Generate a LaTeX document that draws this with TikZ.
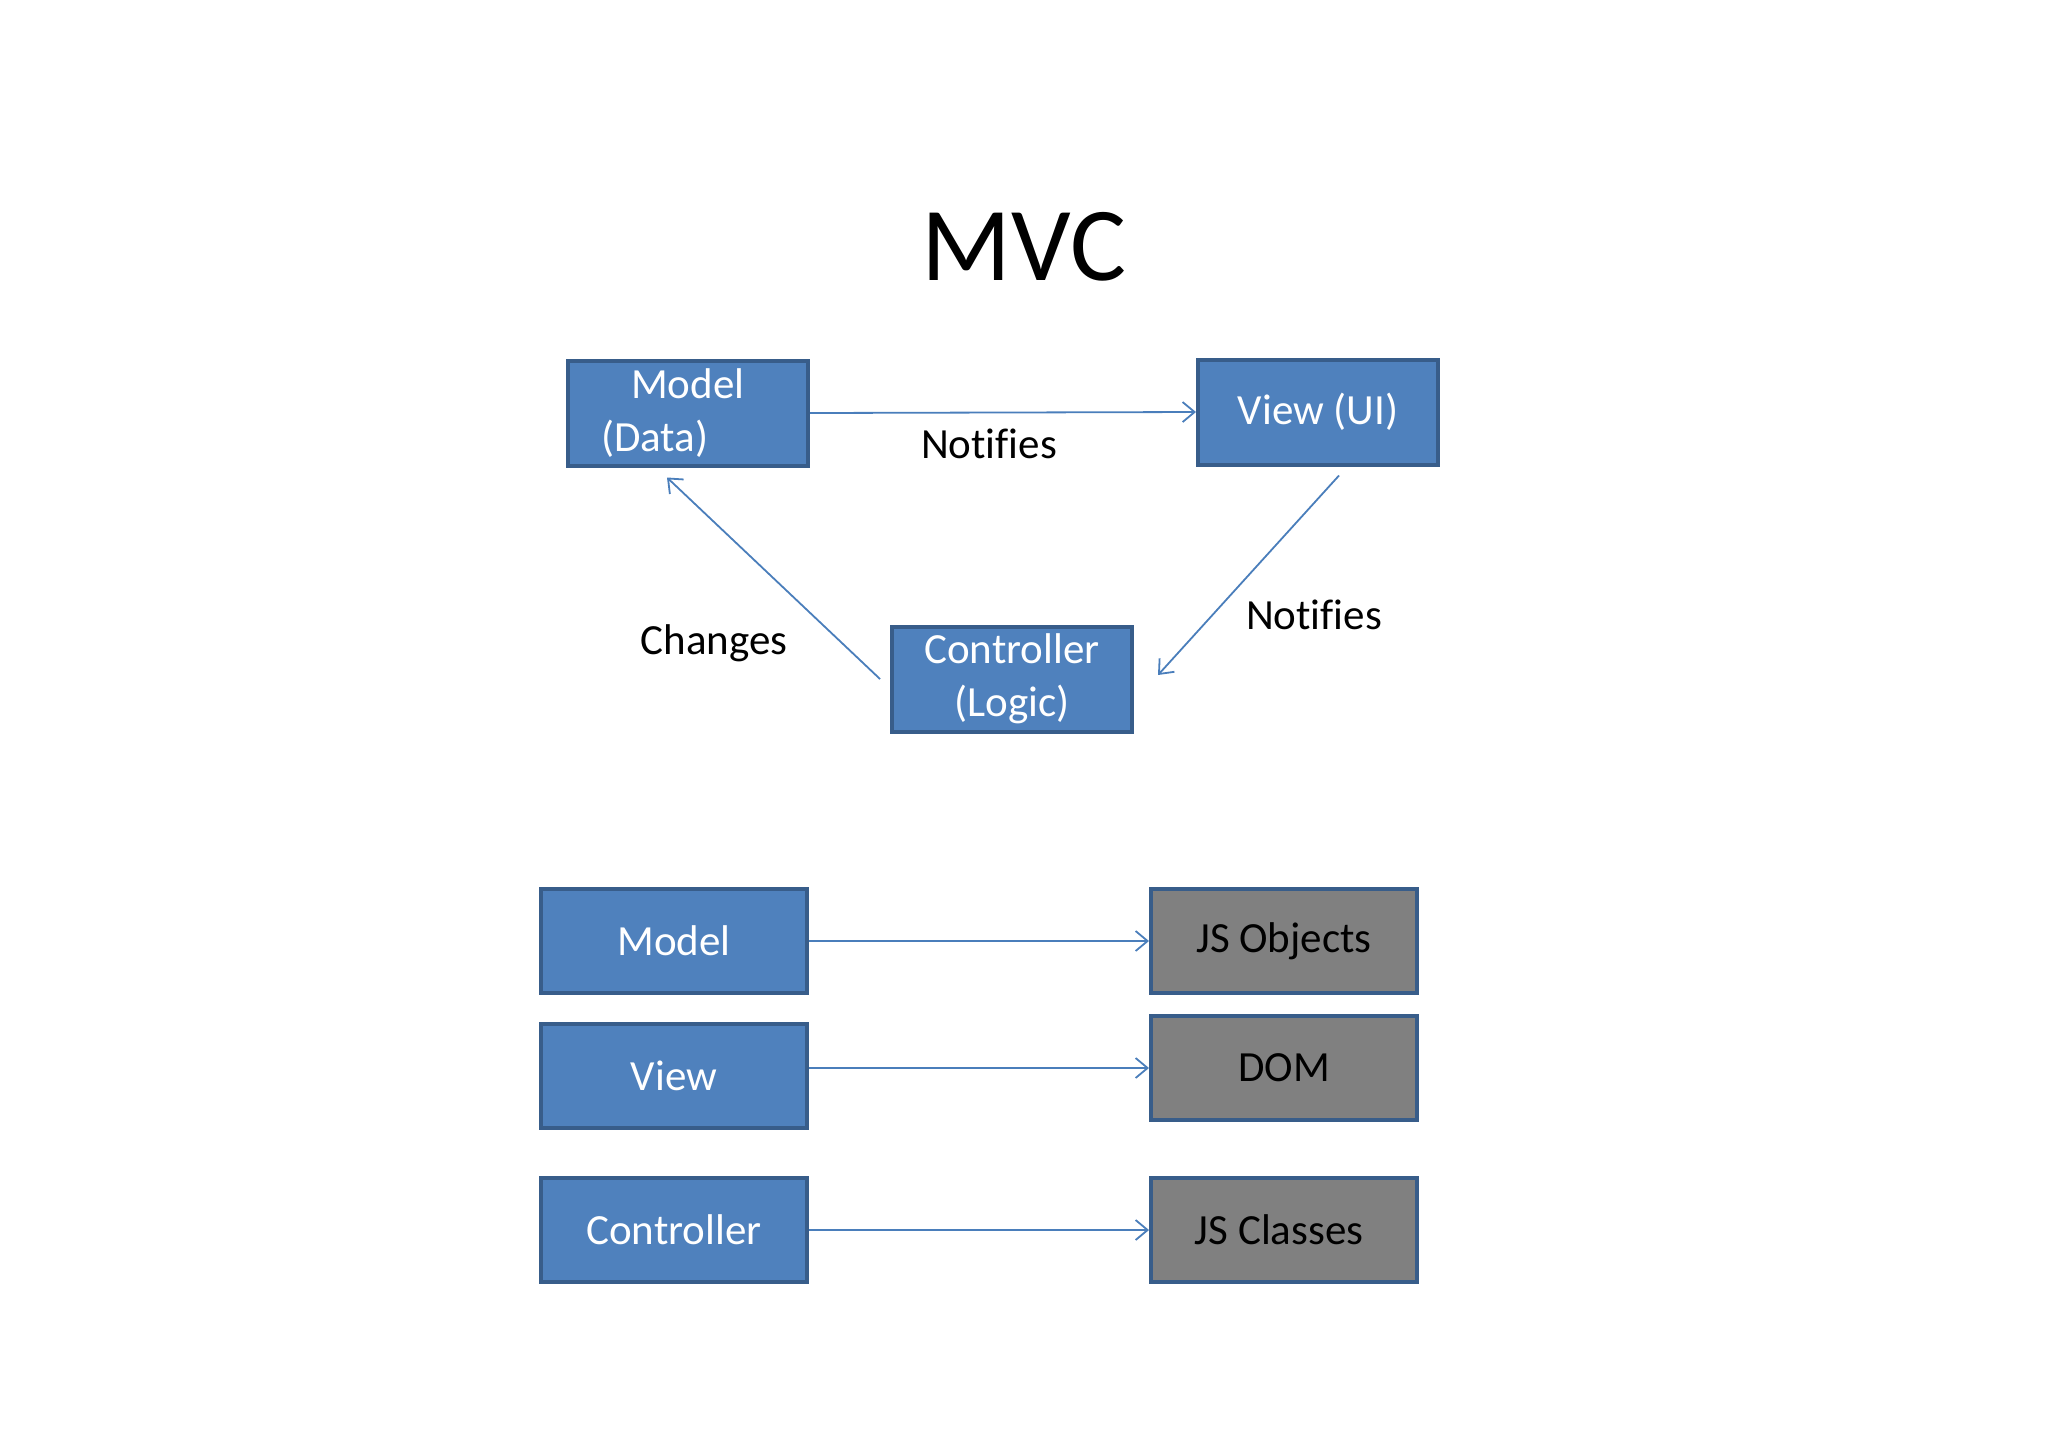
\documentclass[tikz,border=0pt]{standalone}
\usepackage{fontspec}
\setmainfont{Carlito}[Ligatures=NoCommon]
\usetikzlibrary{arrows.meta}

\definecolor{boxblue}{HTML}{4F81BD}
\definecolor{boxedge}{HTML}{385D8A}
\definecolor{boxgray}{HTML}{808080}
\definecolor{linkblue}{HTML}{4A7EBB}

\tikzset{
    bluebox/.style={draw=boxedge, fill=boxblue, line width=2pt, text=white,
        font=\fontsize{21.5}{26.5}\selectfont, align=center, inner sep=0pt},
    graybox/.style={bluebox, fill=boxgray, text=black},
    topsize/.style={minimum width=120pt, minimum height=52.5pt},
    bottomsize/.style={minimum width=133pt, minimum height=52pt},
    flow/.style={draw=linkblue, line width=0.9pt, -{Straight Barb[length=6pt, width=10pt]}},
    caption/.style={font=\fontsize{21.5}{26.5}\selectfont, inner sep=0pt}
}

\begin{document}
\begin{tikzpicture}[x=0.5pt, y=-0.5pt]
        \useasboundingbox (0,0) rectangle (2048,1447);

        % Titel
        \node[font=\fontsize{52.5}{60}\selectfont, inner sep=0pt] (title) at (1024,247) {MVC};

        % Dreieck
        \node[bluebox, topsize, align=left, text width=104pt] (model) at (688,413)
            {\hspace*{8.5pt}\hspace*{0.7em}Model\\\hspace*{8.5pt}(Data)};
        \node[bluebox, topsize] (view) at (1318,412) {View (UI)};
        \node[bluebox, topsize] (ctrl) at (1012,679) {Controller\\(Logic)};

        \draw[flow] (model.east) -- (view.west);
        \draw[flow] ([xshift=-5pt]ctrl.west) -- ([xshift=-10.5pt, yshift=-5pt]model.south);
        \draw[flow] ([xshift=10.5pt, yshift=-4.5pt]view.south) -- ([xshift=12pt, yshift=2pt]ctrl.east);

        \node[caption] (notifiesTop) at (989,444) {Notifies};
        \node[caption] (changes) at (714,643) {Changes};
        \node[caption] (notifiesRight) at (1314,615) {Notifies};

        % Zuordnung
        \foreach \name/\ly/\ry/\ltext/\rtext in {
            mod/941/941/Model/JS Objects,
            vw/1076/1068/View/DOM,
            ctl/1230/1230/Controller/JS Classes
            } {
            \node[bluebox, bottomsize] (\name-l) at (674,\ly) {\ltext};
            \node[graybox, bottomsize] (\name-r) at (1284,\ry) {\rtext};
            \draw[flow] (\name-l.east |- \name-r.west) -- (\name-r.west);
        }
    \end{tikzpicture}
\end{document}
